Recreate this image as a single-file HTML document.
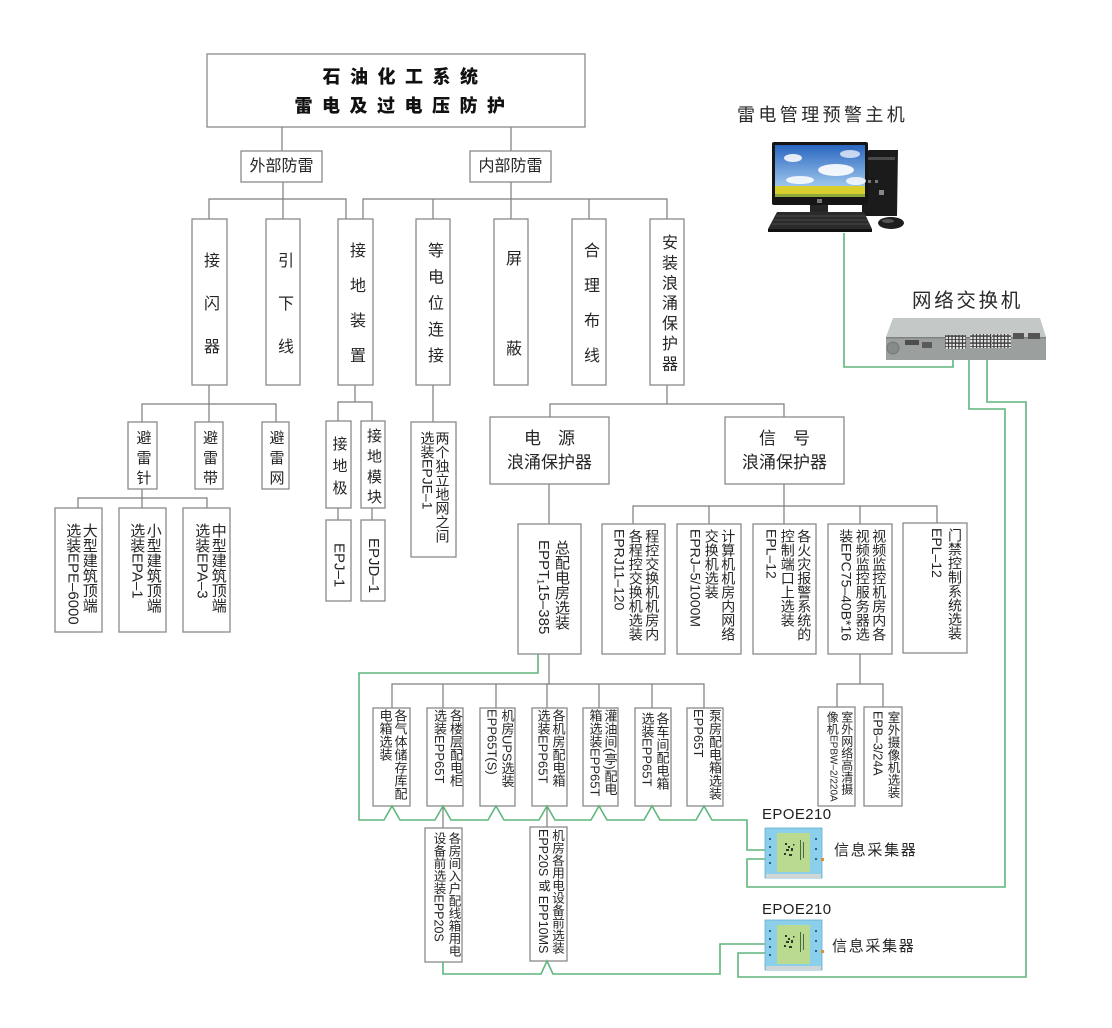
<!DOCTYPE html>
<html><head><meta charset="utf-8">
<style>
html,body{margin:0;padding:0;background:#fff;}
#c{position:relative;width:1112px;height:1028px;background:#fff;overflow:hidden;font-family:"Liberation Sans","Noto Sans CJK SC",sans-serif;color:#222;}
#c svg{position:absolute;left:0;top:0;}
.v{position:absolute;writing-mode:vertical-rl;white-space:nowrap;font-family:"Liberation Sans","Noto Sans CJK SC",sans-serif;color:#262626;}
.h{position:absolute;white-space:nowrap;font-family:"Liberation Sans","Noto Sans CJK SC",sans-serif;color:#262626;}
</style></head>
<body>
<div id="c">
<svg width="1112" height="1028" viewBox="0 0 1112 1028">
<defs>
<linearGradient id="sky" x1="0" y1="0" x2="0" y2="1"><stop offset="0" stop-color="#2a66c0"/><stop offset="1" stop-color="#a6cdf0"/></linearGradient>
<pattern id="ports" width="3.5" height="7" patternUnits="userSpaceOnUse"><rect width="3.5" height="7" fill="#3a3a3a"/><rect x="0.6" y="0.8" width="2.3" height="2.4" fill="#e8e8e8"/><rect x="0.6" y="4" width="2.3" height="2.4" fill="#e8e8e8"/></pattern>
</defs>

<!-- gray connectors -->
<path fill="none" stroke="#7d7d7d" stroke-width="1.2" d="
M282,127V151 M511,127V151
M283,182V219
M209,219V199H346V219
M511,182V219
M363,219V199H667V219
M433,199V219 M589,199V219
M209,385V422 M142,422V404H276V422
M142,489V508 M78,508V498H207V508
M355,385V402 M338,421V402H372V421
M338,508V520 M372,508V520
M433,385V422
M667,385V404 M550,417V404H784V417
M549,484V524
M784,484V524 M633,524V506H937V524 M709,506V524 M860,506V524
M549,654V684 M392,708V684H704V708 M443,684V708 M496,684V708 M547,684V708 M599,684V708 M652,684V708
M443,806V828 M547,806V827
M860,654V684 M837,707V684H883V707"/>

<!-- boxes -->
<g fill="#fff" stroke="#8a8a8a" stroke-width="1.3">
<rect x="207" y="54" width="378" height="73"/>
<rect x="241" y="151" width="81" height="31"/>
<rect x="470" y="151" width="81" height="31"/>
<rect x="192" y="219" width="35" height="166"/>
<rect x="266" y="219" width="34" height="166"/>
<rect x="338" y="219" width="35" height="166"/>
<rect x="416" y="219" width="34" height="166"/>
<rect x="494" y="219" width="34" height="166"/>
<rect x="572" y="219" width="34" height="166"/>
<rect x="650" y="219" width="34" height="166"/>
<rect x="128" y="422" width="29" height="67"/>
<rect x="195" y="422" width="28" height="67"/>
<rect x="262" y="422" width="27" height="67"/>
<rect x="55" y="508" width="47" height="124"/>
<rect x="119" y="508" width="47" height="124"/>
<rect x="183" y="508" width="47" height="124"/>
<rect x="326" y="421" width="25" height="87"/>
<rect x="361" y="421" width="24" height="87"/>
<rect x="326" y="520" width="25" height="81"/>
<rect x="361" y="520" width="24" height="81"/>
<rect x="411" y="422" width="45" height="135"/>
<rect x="490" y="417" width="119" height="67"/>
<rect x="725" y="417" width="119" height="67"/>
<rect x="518" y="524" width="63" height="130"/>
<rect x="602" y="524" width="63" height="130"/>
<rect x="677" y="524" width="64" height="130"/>
<rect x="753" y="524" width="63" height="130"/>
<rect x="828" y="524" width="64" height="130"/>
<rect x="903" y="523" width="64" height="130"/>
<rect x="373" y="708" width="37" height="98"/>
<rect x="427" y="708" width="36" height="98"/>
<rect x="480" y="708" width="35" height="98"/>
<rect x="532" y="708" width="35" height="98"/>
<rect x="583" y="708" width="35" height="98"/>
<rect x="635" y="708" width="36" height="98"/>
<rect x="687" y="708" width="36" height="98"/>
<rect x="425" y="828" width="37" height="134"/>
<rect x="530" y="827" width="37" height="134"/>
<rect x="818" y="707" width="37" height="99"/>
<rect x="864" y="707" width="38" height="99"/>
</g>

<!-- green lines -->
<g fill="none" stroke="#5fb67c" stroke-width="1.6" stroke-linejoin="miter">
<path d="M538,654V673H359V820 H384L392,806L400,820 H435L443,806L451,820 H488L496,806L504,820 H539L547,806L555,820 H591L599,806L607,820 H644L652,806L660,820 H696L704,806L712,820 H747V850H768"/>
<path d="M768,859H747V887H1005V409H969V350"/>
<path d="M443,962V974H541L547,961L553,974H720V944H768"/>
<path d="M768,953H738V977H1026V402H987V350"/>
<path d="M844,233V367H953V350"/>
</g>

<!-- computer -->
<g>
<polygon points="862,155 869,150 898,150 897,216 862,216" fill="#1b1b1b"/>
<rect x="866" y="157" width="29" height="3" fill="#4a4a4a"/>
<rect x="868" y="180" width="3" height="3" fill="#777"/><rect x="875" y="180" width="3" height="3" fill="#777"/>
<rect x="879" y="190" width="5" height="5" fill="#888"/>
<rect x="772" y="142" width="96" height="63" rx="2" fill="#151515"/>
<rect x="775" y="145" width="90" height="44" fill="url(#sky)"/>
<ellipse cx="793" cy="158" rx="9" ry="4" fill="#fff" opacity="0.85"/>
<ellipse cx="836" cy="170" rx="18" ry="6" fill="#fff" opacity="0.9"/>
<ellipse cx="850" cy="154" rx="10" ry="4" fill="#fff" opacity="0.7"/>
<ellipse cx="800" cy="180" rx="14" ry="4" fill="#fff" opacity="0.85"/>
<ellipse cx="856" cy="181" rx="10" ry="4" fill="#fff" opacity="0.8"/>
<rect x="775" y="186" width="90" height="8" fill="#d9cf2c"/>
<rect x="775" y="194" width="90" height="3" fill="#8ea83a"/>
<rect x="817" y="199" width="5" height="4" fill="#777"/>
<rect x="810" y="205" width="18" height="8" fill="#252525"/>
<polygon points="777,212 864,212 872,229 768,229" fill="#2b2b2b"/>
<g stroke="#555" stroke-width="0.8"><line x1="776" y1="216" x2="866" y2="216"/><line x1="774" y1="220" x2="868" y2="220"/><line x1="772" y1="224" x2="870" y2="224"/></g>
<rect x="768" y="229" width="104" height="3" fill="#111"/>
<ellipse cx="891" cy="223" rx="13" ry="6" fill="#1e1e1e"/>
<ellipse cx="888" cy="221" rx="6" ry="2" fill="#555"/>
</g>

<!-- switch -->
<g>
<polygon points="893,318 1040,318 1046,337 886,337" fill="#c4c8c7"/>
<rect x="886" y="337" width="160" height="23" fill="#9ba09f"/>
<rect x="886" y="337" width="160" height="1.5" fill="#7e8382"/>
<circle cx="893" cy="348" r="6" fill="#868b8a" stroke="#777" stroke-width="1"/>
<rect x="905" y="340" width="14" height="5" fill="#4d4d4d"/>
<rect x="922" y="342" width="10" height="6" fill="#5a5a5a"/>
<rect x="945" y="335" width="21" height="14" fill="url(#ports)"/>
<rect x="970" y="334" width="21" height="14" fill="url(#ports)"/>
<rect x="992" y="334" width="19" height="14" fill="url(#ports)"/>
<rect x="1013" y="333" width="11" height="6" fill="#555"/>
<rect x="1028" y="333" width="12" height="6" fill="#555"/>
</g>

<!-- EPOE210 devices -->
<g transform="translate(765,828)">
<rect x="0" y="0" width="57" height="50" fill="#8ccfea" stroke="#66aed0" stroke-width="0.8"/>
<rect x="1" y="46" width="55" height="4" fill="#cfd6d6"/>
<rect x="12" y="5" width="33" height="39" fill="#badb8f"/>
<g fill="#2b3a2b"><rect x="20" y="15" width="2" height="2"/><rect x="23" y="18" width="2" height="2"/><rect x="21" y="21" width="3" height="2"/><rect x="26" y="20" width="2" height="3"/><rect x="19" y="25" width="2" height="2"/><rect x="24" y="26" width="3" height="2"/><rect x="28" y="16" width="1.5" height="1.5"/></g>
<g fill="#4a6a4a"><rect x="35" y="12" width="1" height="20"/><rect x="38" y="14" width="1" height="16"/></g>
<g fill="#2a5f8a"><rect x="4" y="10" width="2" height="2"/><rect x="4" y="18" width="2" height="2"/><rect x="4" y="26" width="2" height="2"/><rect x="4" y="34" width="2" height="2"/><rect x="50" y="10" width="2" height="2"/><rect x="50" y="20" width="2" height="2"/><rect x="50" y="30" width="2" height="2"/></g>
<rect x="56" y="30" width="3" height="3" fill="#e0902a"/>
</g>
<g transform="translate(765,920)">
<rect x="0" y="0" width="57" height="50" fill="#8ccfea" stroke="#66aed0" stroke-width="0.8"/>
<rect x="1" y="46" width="55" height="4" fill="#cfd6d6"/>
<rect x="12" y="5" width="33" height="39" fill="#badb8f"/>
<g fill="#2b3a2b"><rect x="20" y="15" width="2" height="2"/><rect x="23" y="18" width="2" height="2"/><rect x="21" y="21" width="3" height="2"/><rect x="26" y="20" width="2" height="3"/><rect x="19" y="25" width="2" height="2"/><rect x="24" y="26" width="3" height="2"/><rect x="28" y="16" width="1.5" height="1.5"/></g>
<g fill="#4a6a4a"><rect x="35" y="12" width="1" height="20"/><rect x="38" y="14" width="1" height="16"/></g>
<g fill="#2a5f8a"><rect x="4" y="10" width="2" height="2"/><rect x="4" y="18" width="2" height="2"/><rect x="4" y="26" width="2" height="2"/><rect x="4" y="34" width="2" height="2"/><rect x="50" y="10" width="2" height="2"/><rect x="50" y="20" width="2" height="2"/><rect x="50" y="30" width="2" height="2"/></g>
<rect x="56" y="30" width="3" height="3" fill="#e0902a"/>
</g>
</svg>

<!-- Title -->
<div class="h" style="left:322.5px;top:65px;font-size:18px;line-height:24px;letter-spacing:9.5px;font-weight:900;color:#111;">石油化工系统</div>
<div class="h" style="left:294.5px;top:94px;font-size:18px;line-height:24px;letter-spacing:9.5px;font-weight:900;color:#111;">雷电及过电压防护</div>
<div class="h" style="left:249.5px;top:156.5px;font-size:16px;line-height:20px;">外部防雷</div>
<div class="h" style="left:478.5px;top:156.5px;font-size:16px;line-height:20px;">内部防雷</div>

<!-- top row vertical -->
<div class="v" style="left:199px;top:252px;width:20px;font-size:16px;line-height:20px;letter-spacing:27px;">接闪器</div>
<div class="v" style="left:273px;top:252px;width:20px;font-size:16px;line-height:20px;letter-spacing:27px;">引下线</div>
<div class="v" style="left:345px;top:242px;width:20px;font-size:16px;line-height:20px;letter-spacing:19px;">接地装置</div>
<div class="v" style="left:423px;top:242px;width:20px;font-size:16px;line-height:20px;letter-spacing:10.25px;">等电位连接</div>
<div class="v" style="left:501px;top:250px;width:20px;font-size:16px;line-height:20px;letter-spacing:74px;">屏蔽</div>
<div class="v" style="left:579px;top:242px;width:20px;font-size:16px;line-height:20px;letter-spacing:19px;">合理布线</div>
<div class="v" style="left:657px;top:234px;width:20px;font-size:16px;line-height:20px;letter-spacing:4.2px;">安装浪涌保护器</div>

<!-- second row -->
<div class="v" style="left:132.5px;top:430px;width:20px;font-size:15px;line-height:20px;letter-spacing:5px;">避雷针</div>
<div class="v" style="left:199px;top:430px;width:20px;font-size:15px;line-height:20px;letter-spacing:5px;">避雷带</div>
<div class="v" style="left:265.5px;top:430px;width:20px;font-size:15px;line-height:20px;letter-spacing:5px;">避雷网</div>
<div class="v" style="left:328.5px;top:435.5px;width:20px;font-size:15px;line-height:20px;letter-spacing:7px;">接地极</div>
<div class="v" style="left:363px;top:427.5px;width:20px;font-size:15px;line-height:20px;letter-spacing:5.3px;">接地模块</div>
<div class="v" style="left:328.5px;top:543px;width:20px;font-size:15px;line-height:20px;">EPJ–1</div>
<div class="v" style="left:363px;top:538px;width:20px;font-size:15px;line-height:20px;">EPJD–1</div>
<div class="v" style="left:419.5px;top:431px;width:30px;font-size:14px;line-height:15px;">两个独立地网之间<br>选装EPJE–1</div>

<!-- third row left -->
<div class="v" style="left:63.75px;top:523px;width:33px;font-size:15px;line-height:16.5px;">大型建筑顶端<br>选装EPE–6000</div>
<div class="v" style="left:127.75px;top:523px;width:33px;font-size:15px;line-height:16.5px;">小型建筑顶端<br>选装EPA–1</div>
<div class="v" style="left:192.75px;top:523px;width:33px;font-size:15px;line-height:16.5px;">中型建筑顶端<br>选装EPA–3</div>

<!-- surge boxes -->
<div class="h" style="left:490px;width:119px;text-align:center;top:427px;font-size:17px;line-height:24px;">电　源</div>
<div class="h" style="left:490px;width:119px;text-align:center;top:451px;font-size:17px;line-height:24px;">浪涌保护器</div>
<div class="h" style="left:725px;width:119px;text-align:center;top:427px;font-size:17px;line-height:24px;">信　号</div>
<div class="h" style="left:725px;width:119px;text-align:center;top:451px;font-size:17px;line-height:24px;">浪涌保护器</div>

<div class="v" style="left:534px;top:540px;width:36px;font-size:15px;line-height:18px;">总配电房选装<br>EPPT₁15–385</div>

<div class="v" style="left:610.75px;top:529px;width:49.5px;font-size:14px;line-height:16.5px;">程控交换机机房内<br>各程控交换机选装<br>EPRJ11–120</div>
<div class="v" style="left:686.75px;top:529px;width:49.5px;font-size:14px;line-height:16.5px;">计算机机房内网络<br>交换机选装<br>EPRJ–5/1000M</div>
<div class="v" style="left:762.75px;top:529px;width:49.5px;font-size:14px;line-height:16.5px;">各火灾报警系统的<br>控制端口上选装<br>EPL–12</div>
<div class="v" style="left:837.75px;top:529px;width:49.5px;font-size:14px;line-height:16.5px;">视频监控机房内各<br>视频监控服务器选<br>装EPC75–40B*16</div>
<div class="v" style="left:928px;top:528px;width:36px;font-size:14px;line-height:18px;">门禁控制系统选装<br>EPL–12</div>

<!-- power children -->
<div class="v" style="left:377.5px;top:708.5px;width:30px;font-size:13px;line-height:15px;">各气体储存库配<br>电箱选装</div>
<div class="v" style="left:431px;top:708.5px;width:32px;font-size:13px;line-height:16px;">各楼层配电柜<br>选装EPP65T</div>
<div class="v" style="left:484.5px;top:708.5px;width:30px;font-size:13px;line-height:15px;">机房UPS选装<br>EPP65T(S)</div>
<div class="v" style="left:535.5px;top:708.5px;width:30px;font-size:13px;line-height:15px;">各机房配电箱<br>选装EPP65T</div>
<div class="v" style="left:587.5px;top:708.5px;width:30px;font-size:13px;line-height:15px;">灌油间(亭)配电<br>箱选装EPP65T</div>
<div class="v" style="left:639.5px;top:712px;width:30px;font-size:13px;line-height:15px;">各车间配电箱<br>选装EPP65T</div>
<div class="v" style="left:690px;top:708.5px;width:32px;font-size:13px;line-height:16px;">泵房配电箱选装<br>EPP65T</div>

<!-- bottom boxes -->
<div class="v" style="left:430.5px;top:831.5px;width:30px;font-size:12.5px;line-height:15px;">各房间入户配线箱用电<br>设备前选装EPP20S</div>
<div class="v" style="left:536px;top:829px;width:28px;font-size:12.5px;line-height:14px;">机房各用电设备前选装<br>EPP20S 或 EPP10MS</div>

<!-- camera boxes -->
<div class="v" style="left:824.75px;top:711px;width:29px;font-size:12px;line-height:14.5px;">室外网络高清摄<br>像机<span style="font-size:10px;">EPBW–2/220A</span></div>
<div class="v" style="left:869.5px;top:711px;width:30px;font-size:12.5px;line-height:15px;">室外摄像机选装<br>EPB–3/24A</div>

<!-- right side labels -->
<div class="h" style="left:737px;top:103px;font-size:18px;line-height:24px;letter-spacing:3.4px;color:#2a2a2a;">雷电管理预警主机</div>
<div class="h" style="left:912px;top:288px;font-size:19.5px;line-height:26px;letter-spacing:2.7px;color:#2a2a2a;">网络交换机</div>
<div class="h" style="left:762px;top:806px;font-size:15px;line-height:18px;letter-spacing:0.4px;color:#1e1e1e;">EPOE210</div>
<div class="h" style="left:834px;top:841px;font-size:15px;line-height:20px;letter-spacing:1.7px;">信息采集器</div>
<div class="h" style="left:762px;top:901px;font-size:15px;line-height:18px;letter-spacing:0.4px;color:#1e1e1e;">EPOE210</div>
<div class="h" style="left:832px;top:937px;font-size:15px;line-height:20px;letter-spacing:1.7px;">信息采集器</div>
</div>
</body></html>
